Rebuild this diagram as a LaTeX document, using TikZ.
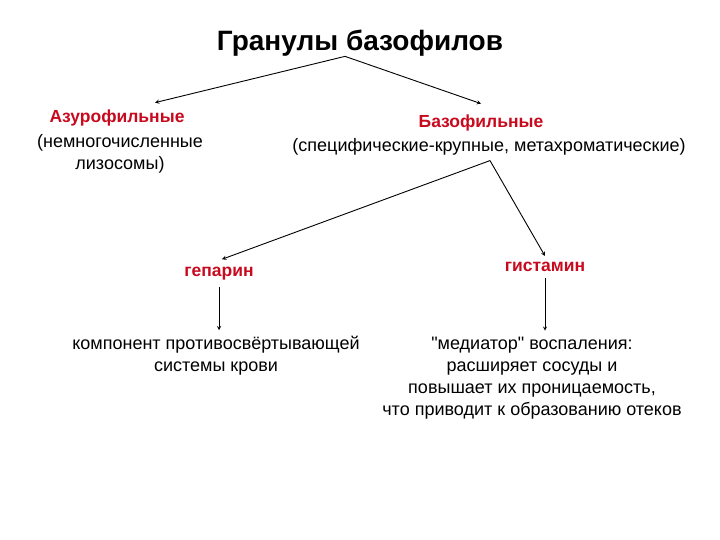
\documentclass[tikz,border=0pt]{standalone}
\usepackage{fontspec}
\setmainfont{Liberation Sans}
\newfontfamily\quotefont{Liberation Sans}
\usetikzlibrary{shapes,arrows}
\definecolor{granred}{RGB}{200,10,30}
\newcommand{\straightquote}{{\quotefont"}}
\tikzstyle{title} = [inner sep=0pt, font=\fontsize{28}{32}\selectfont\bfseries]
\tikzstyle{kind} = [inner sep=0pt, text=granred, font=\fontsize{17.5}{20}\selectfont\bfseries]
\tikzstyle{note} = [inner sep=0pt, align=center, font=\fontsize{18}{22}\selectfont]
\tikzstyle{arrow} = [line width=0.9pt,->,>=stealth]

\begin{document}
\begin{tikzpicture}[x=1pt,y=1pt]
        \useasboundingbox (0,0) rectangle (720,540);
        \node (gran) [title] at (360,497) {Гранулы базофилов};
        \node (azur) [kind] at (117,422) {Азурофильные};
        \node (azurnote) [note] at (120,386) {(немногочисленные\\лизосомы)};
        \node (baso) [kind] at (481,417) {Базофильные};
        \node (basonote) [note] at (489,393) {(специфические-крупные, метахроматические)};
        \node (hep) [kind] at (219,266) {гепарин};
        \node (hist) [kind] at (545,273) {гистамин};
        \node (hepnote) [note] at (216,184) {компонент противосвёртывающей\\системы крови};
        \node (histnote) [note] at (532,162) {\straightquote медиатор\straightquote{} воспаления:\\расширяет сосуды и\\повышает их проницаемость,\\что приводит к образованию отеков};
        \draw [arrow] ([xshift=-15pt]gran.south) -- ([xshift=38pt,yshift=7pt]azur.north);
        \draw [arrow] ([xshift=-15pt]gran.south) -- ([yshift=11pt]baso.north);
        \draw [arrow] ([xshift=1pt,yshift=-5pt]basonote.south) -- ([xshift=3pt,yshift=8pt]hep.north);
        \draw [arrow] ([xshift=1pt,yshift=-5pt]basonote.south) -- ([yshift=6pt]hist.north);
        \draw [arrow] ([yshift=-6pt]hep.south) -- ([yshift=6pt]hep.south |- hepnote.north);
        \draw [arrow] ([yshift=-6pt]hist.south) -- ([yshift=6pt]hist.south |- histnote.north);
    \end{tikzpicture}
\end{document}
